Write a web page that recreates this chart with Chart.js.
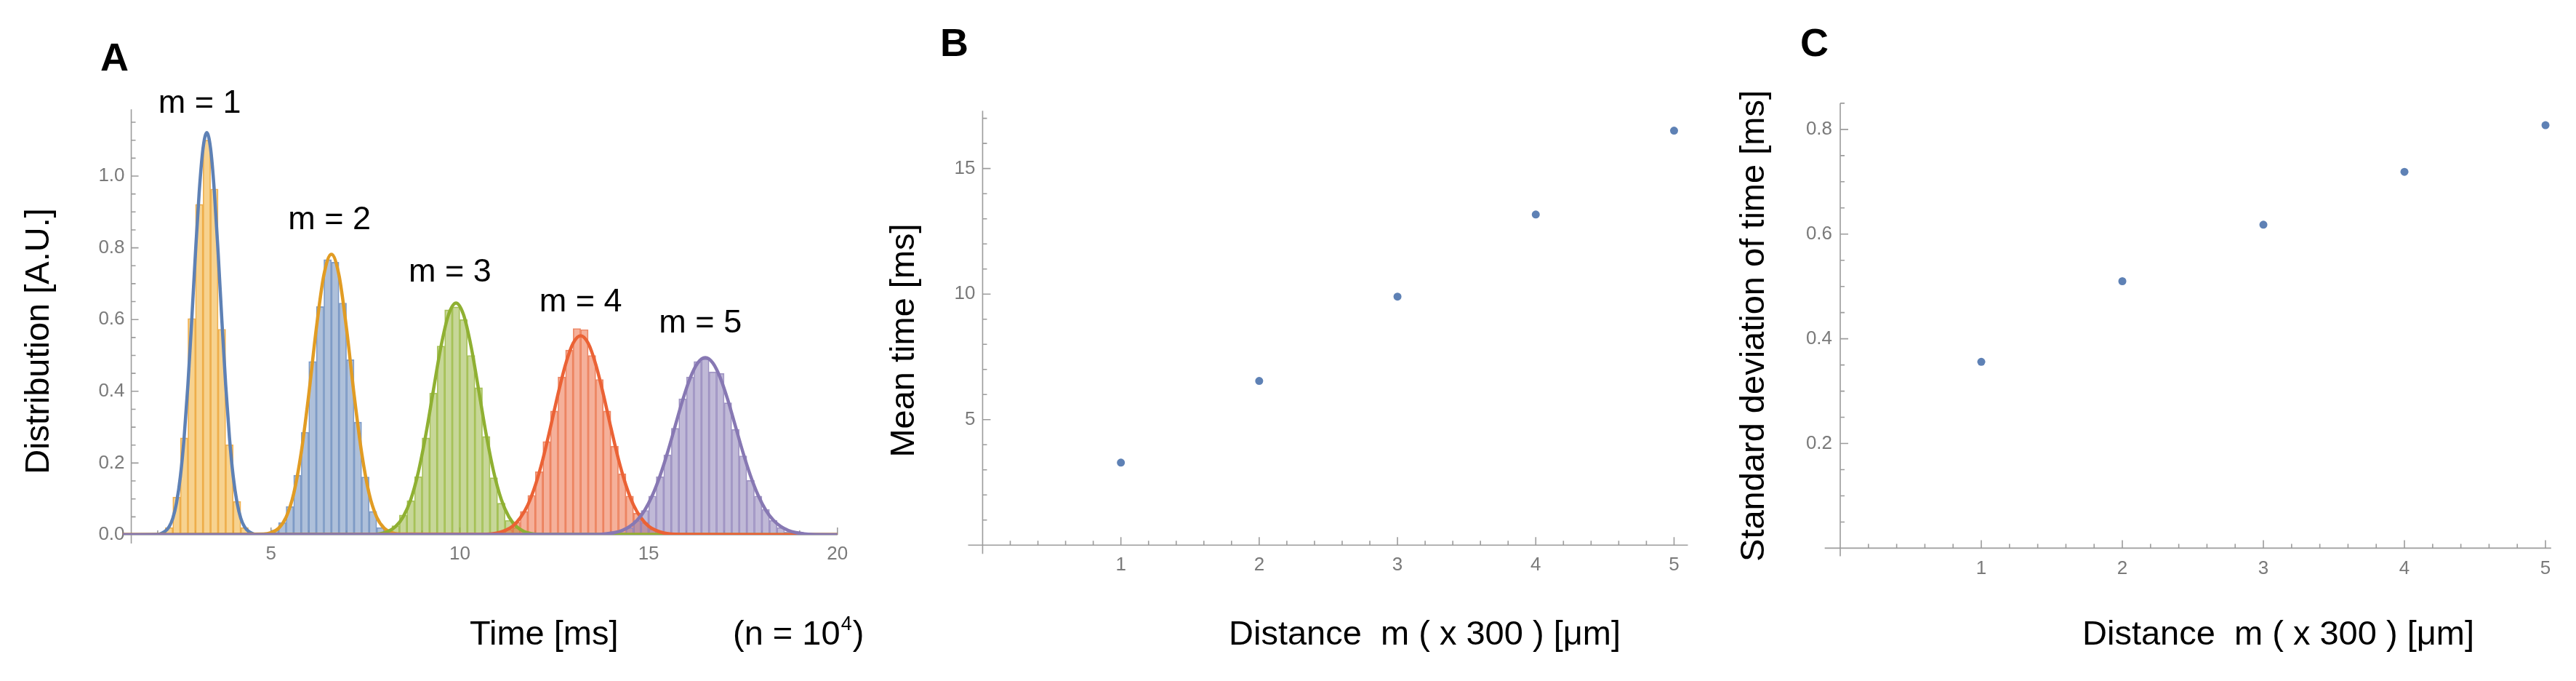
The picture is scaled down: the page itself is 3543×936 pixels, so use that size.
<!DOCTYPE html>
<html>
<head>
<meta charset="utf-8">
<script src="https://cdn.jsdelivr.net/npm/chart.js@4.4.1/dist/chart.umd.min.js"></script>
<style>
html, body { margin: 0; padding: 0; background: #ffffff; }
#wrap { position: relative; width: 3543px; height: 936px; overflow: hidden; background: #ffffff; }
#wrap canvas { position: absolute; top: 0; }
</style>
</head>
<body>
<div id="wrap">
  <canvas id="cA" width="1200" height="936" style="left:0px"></canvas>
  <canvas id="cB" width="1175" height="936" style="left:1200px"></canvas>
  <canvas id="cC" width="1168" height="936" style="left:2375px"></canvas>
</div>
<script>
// ---------------- DATA ----------------
// Panel B / C : one value per distance m
const distances = [1, 2, 3, 4, 5];
const meanTimes = [3.29, 6.54, 9.90, 13.17, 16.51];
const sdTimes   = [0.356, 0.510, 0.618, 0.719, 0.808];

// Panel A : histogram bins (bin centres, bin width 0.2 ms) and heights
const m1Bins = [2.1, 2.3, 2.5, 2.7, 2.9, 3.1, 3.3, 3.5, 3.7, 3.9, 4.1, 4.3, 4.5];
const m1Hist = [0.003, 0.02, 0.105, 0.27, 0.603, 0.921, 1.10, 0.964, 0.573, 0.251, 0.093, 0.02, 0.004];
const m2Bins = [4.9, 5.1, 5.3, 5.5, 5.7, 5.9, 6.1, 6.3, 6.5, 6.7, 6.9, 7.1, 7.3, 7.5, 7.7, 7.9, 8.1];
const m2Hist = [0.003, 0.013, 0.034, 0.079, 0.166, 0.286, 0.483, 0.636, 0.767, 0.76, 0.646, 0.488, 0.314, 0.161, 0.065, 0.02, 0.005];
const m3Bins = [8.1, 8.3, 8.5, 8.7, 8.9, 9.1, 9.3, 9.5, 9.7, 9.9, 10.1, 10.3, 10.5, 10.7, 10.9, 11.1, 11.3, 11.5, 11.7];
const m3Hist = [0.008, 0.025, 0.055, 0.095, 0.162, 0.27, 0.395, 0.526, 0.627, 0.635, 0.60, 0.50, 0.41, 0.274, 0.159, 0.088, 0.04, 0.02, 0.007];
const m4Bins = [11.3, 11.5, 11.7, 11.9, 12.1, 12.3, 12.5, 12.7, 12.9, 13.1, 13.3, 13.5, 13.7, 13.9, 14.1, 14.3, 14.5, 14.7, 14.9, 15.1, 15.3];
const m4Hist = [0.015, 0.035, 0.065, 0.11, 0.176, 0.26, 0.345, 0.44, 0.515, 0.575, 0.572, 0.50, 0.433, 0.345, 0.247, 0.17, 0.108, 0.06, 0.034, 0.016, 0.007];
const m5Bins = [14.1, 14.3, 14.5, 14.7, 14.9, 15.1, 15.3, 15.5, 15.7, 15.9, 16.1, 16.3, 16.5, 16.7, 16.9, 17.1, 17.3, 17.5, 17.7, 17.9, 18.1, 18.3, 18.5, 18.7, 18.9];
const m5Hist = [0.003, 0.007, 0.02, 0.04, 0.068, 0.108, 0.162, 0.223, 0.297, 0.379, 0.44, 0.483, 0.49, 0.454, 0.45, 0.368, 0.294, 0.22, 0.152, 0.108, 0.071, 0.04, 0.02, 0.008, 0.003];

// Panel A : fitted curves
const m1CurveX = [1.0, 2.0, 2.1, 2.2, 2.3, 2.4, 2.5, 2.6, 2.7, 2.8, 2.9, 3.0, 3.1, 3.2, 3.3, 3.4, 3.5, 3.6, 3.7, 3.8, 3.9, 4.0, 4.1, 4.2, 4.3, 4.4, 4.5, 4.6, 20];
const m1CurveY = [0, 0.001, 0.004, 0.010, 0.022, 0.046, 0.090, 0.162, 0.271, 0.418, 0.596, 0.786, 0.957, 1.077, 1.121, 1.077, 0.957, 0.786, 0.596, 0.418, 0.271, 0.162, 0.090, 0.046, 0.022, 0.010, 0.004, 0.001, 0];
const m2CurveX = [1.0, 4.8, 5.0, 5.2, 5.4, 5.6, 5.8, 6.0, 6.2, 6.4, 6.6, 6.8, 7.0, 7.2, 7.4, 7.6, 7.8, 8.0, 8.2, 8.4, 20];
const m2CurveY = [0, 0.002, 0.006, 0.018, 0.049, 0.114, 0.229, 0.391, 0.575, 0.724, 0.782, 0.724, 0.575, 0.391, 0.229, 0.114, 0.049, 0.018, 0.006, 0.002, 0];
const m3CurveX = [1.0, 7.7, 7.9, 8.1, 8.3, 8.5, 8.7, 8.9, 9.1, 9.3, 9.5, 9.7, 9.9, 10.1, 10.3, 10.5, 10.7, 10.9, 11.1, 11.3, 11.5, 11.7, 11.9, 12.1, 20];
const m3CurveY = [0, 0.001, 0.003, 0.009, 0.023, 0.050, 0.098, 0.174, 0.279, 0.403, 0.524, 0.613, 0.646, 0.613, 0.524, 0.403, 0.279, 0.174, 0.098, 0.050, 0.023, 0.009, 0.003, 0.001, 0];
const m4CurveX = [1.0, 10.6, 10.8, 11.0, 11.2, 11.4, 11.6, 11.8, 12.0, 12.2, 12.4, 12.6, 12.8, 13.0, 13.2, 13.4, 13.6, 13.8, 14.0, 14.2, 14.4, 14.6, 14.8, 15.0, 15.2, 15.4, 15.6, 15.8, 20];
const m4CurveY = [0, 0.001, 0.002, 0.005, 0.012, 0.024, 0.047, 0.083, 0.138, 0.211, 0.299, 0.392, 0.475, 0.534, 0.555, 0.534, 0.475, 0.392, 0.299, 0.211, 0.138, 0.083, 0.047, 0.024, 0.012, 0.005, 0.002, 0.001, 0];
const m5CurveX = [1.0, 13.7, 13.9, 14.1, 14.3, 14.5, 14.7, 14.9, 15.1, 15.3, 15.5, 15.7, 15.9, 16.1, 16.3, 16.5, 16.7, 16.9, 17.1, 17.3, 17.5, 17.7, 17.9, 18.1, 18.3, 18.5, 18.7, 18.9, 19.1, 19.3, 20];
const m5CurveY = [0, 0.001, 0.003, 0.006, 0.012, 0.023, 0.041, 0.069, 0.110, 0.164, 0.229, 0.302, 0.375, 0.437, 0.479, 0.494, 0.479, 0.437, 0.375, 0.302, 0.229, 0.164, 0.110, 0.069, 0.041, 0.023, 0.012, 0.006, 0.003, 0.001, 0];

const peakLabels = ["m = 1", "m = 2", "m = 3", "m = 4", "m = 5"];

// Tick labels
const ticksAX = [5, 10, 15, 20];
const ticksAY = [0, 0.2, 0.4, 0.6, 0.8, 1.0];
const ticksBX = [1, 2, 3, 4, 5];
const ticksBY = [5, 10, 15];
const ticksCX = [1, 2, 3, 4, 5];
const ticksCY = [0.2, 0.4, 0.6, 0.8];

// ---------------- STYLE ----------------
const FONT = '"Liberation Sans", Arial, Helvetica, sans-serif';
const AXIS_COLOR = '#9c9c9c';
const TICK_TEXT = '#7a7a7a';
const C_BLUE = '#5E81B5', C_ORANGE = '#E19C24', C_GREEN = '#8FB032', C_RED = '#EB6235', C_PURPLE = '#8778B3';

function rgba(hex, a) {
  const n = parseInt(hex.slice(1), 16);
  return `rgba(${(n >> 16) & 255},${(n >> 8) & 255},${n & 255},${a})`;
}
function stepRange(start, end, step, exclude) {
  const out = [];
  const n = Math.round((end - start) / step);
  for (let i = 0; i <= n; i++) {
    const v = +(start + i * step).toFixed(6);
    if (!exclude.some(e => Math.abs(e - v) < 1e-6)) out.push(v);
  }
  return out;
}
function xy(xs, ys) { return xs.map((x, i) => ({ x: x, y: ys[i] })); }

function drawAxes(chart, c) {
  const ctx = chart.ctx, ca = chart.chartArea;
  const xs = chart.scales.x, ys = chart.scales.y;
  const ax = xs.getPixelForValue(c.yAxisAt);
  const ay = ys.getPixelForValue(0);
  ctx.save();
  ctx.strokeStyle = AXIS_COLOR;
  ctx.lineWidth = 1.6;
  ctx.beginPath();
  ctx.moveTo(ca.left, ay); ctx.lineTo(ca.right, ay);
  ctx.moveTo(ax, ca.top); ctx.lineTo(ax, ay + c.yExtend);
  c.xMajor.forEach(v => { const p = xs.getPixelForValue(v); ctx.moveTo(p, ay); ctx.lineTo(p, ay - c.majorLen); });
  c.xMinor.forEach(v => { const p = xs.getPixelForValue(v); ctx.moveTo(p, ay); ctx.lineTo(p, ay - c.minorLen); });
  c.yMajor.forEach(v => { const p = ys.getPixelForValue(v); ctx.moveTo(ax, p); ctx.lineTo(ax + c.majorLen, p); });
  c.yMinor.forEach(v => { const p = ys.getPixelForValue(v); ctx.moveTo(ax, p); ctx.lineTo(ax + c.minorLen, p); });
  ctx.stroke();
  ctx.fillStyle = TICK_TEXT;
  ctx.font = `26px ${FONT}`;
  ctx.textAlign = 'center';
  ctx.textBaseline = 'alphabetic';
  c.xMajor.forEach(v => ctx.fillText(c.xFmt(v), xs.getPixelForValue(v), ay + c.xLabelDrop));
  ctx.textAlign = 'right';
  ctx.textBaseline = 'middle';
  c.yMajor.forEach(v => ctx.fillText(c.yFmt(v), ax - c.yLabelGap, ys.getPixelForValue(v)));
  ctx.restore();
}

function drawTexts(chart, c) {
  const ctx = chart.ctx;
  ctx.save();
  ctx.fillStyle = '#000000';
  // panel letter
  ctx.font = `bold 54px ${FONT}`;
  ctx.textAlign = 'left';
  ctx.textBaseline = 'alphabetic';
  ctx.fillText(c.letter, c.letterX, c.letterY);
  // y title (rotated)
  ctx.font = `47px ${FONT}`;
  ctx.save();
  ctx.translate(c.yTitleX, c.yTitleY);
  ctx.rotate(-Math.PI / 2);
  ctx.textAlign = 'center';
  ctx.fillText(c.yTitle, 0, 17);
  ctx.restore();
  // x title
  ctx.textAlign = 'left';
  ctx.fillText(c.xTitle, c.xTitleX, c.xTitleY);
  ctx.restore();
  if (c.extra) c.extra(chart);
}

function axesPlugin(c) {
  return {
    id: 'axes' + c.letter,
    beforeDatasetsDraw(chart) { drawAxes(chart, c); },
    afterDraw(chart) { drawTexts(chart, c); }
  };
}

function scaleOpts(min, max, ticks, isX) {
  return {
    type: 'linear', min: min, max: max, bounds: 'data', offset: false,
    grid: { display: false }, border: { display: false },
    ticks: { display: false },
    afterBuildTicks: (s) => { s.ticks = ticks.map(v => ({ value: v })); },
    afterFit: (s) => { if (isX) s.height = 0; else s.width = 0; }
  };
}

const baseOptions = {
  responsive: false, animation: false, devicePixelRatio: 1, events: [],
  plugins: { legend: { display: false }, tooltip: { enabled: false }, title: { display: false } }
};

// ---------------- PANEL A ----------------
const peakLabelAt = [[3.11, 1.176], [6.55, 0.852], [9.74, 0.706], [13.20, 0.623], [16.37, 0.564]];

function histDataset(bins, hist, fillHex, fillA, edgeHex, order) {
  return {
    type: 'bar', data: xy(bins, hist), grouped: false,
    backgroundColor: rgba(fillHex, fillA), borderColor: rgba(edgeHex, 0.85), borderWidth: 1,
    borderSkipped: 'start', barPercentage: 1, categoryPercentage: 1, order: order
  };
}
function curveDataset(xs, ys, color, order) {
  return {
    type: 'line', data: xy(xs, ys), borderColor: color, borderWidth: 4.5,
    pointRadius: 0, fill: false, cubicInterpolationMode: 'monotone', order: order
  };
}

new Chart(document.getElementById('cA'), {
  type: 'bar',
  data: {
    datasets: [
      histDataset(m1Bins, m1Hist, '#F0A828', 0.52, '#EBA23A', 20),
      histDataset(m2Bins, m2Hist, C_BLUE, 0.5, '#7393C2', 19),
      histDataset(m3Bins, m3Hist, C_GREEN, 0.5, '#9DBD48', 18),
      histDataset(m4Bins, m4Hist, C_RED, 0.5, '#EA7A55', 17),
      histDataset(m5Bins, m5Hist, C_PURPLE, 0.52, '#998CC0', 16),
      curveDataset(m1CurveX, m1CurveY, C_BLUE, 5),
      curveDataset(m2CurveX, m2CurveY, C_ORANGE, 4),
      curveDataset(m3CurveX, m3CurveY, C_GREEN, 3),
      curveDataset(m4CurveX, m4CurveY, C_RED, 2),
      curveDataset(m5CurveX, m5CurveY, C_PURPLE, 1)
    ]
  },
  options: Object.assign({}, baseOptions, {
    layout: { padding: { left: 168.6, right: 48.2, top: 150.3, bottom: 201 } },
    scales: { x: scaleOpts(1.07, 20, ticksAX, true), y: scaleOpts(0, 1.186, ticksAY, false) }
  }),
  plugins: [axesPlugin({
    letter: 'A', letterX: 138, letterY: 97,
    yTitle: 'Distribution [A.U.]', yTitleX: 50, yTitleY: 469,
    xTitle: 'Time [ms]', xTitleX: 646, xTitleY: 886,
    yAxisAt: 1.3, yExtend: 12, majorLen: 10, minorLen: 6,
    xMajor: ticksAX, xMinor: stepRange(2, 19, 1, ticksAX),
    yMajor: ticksAY, yMinor: stepRange(0.05, 1.15, 0.05, [0, 0.2, 0.4, 0.6, 0.8, 1.0]),
    xFmt: v => String(v), yFmt: v => v.toFixed(1), xLabelDrop: 34, yLabelGap: 9,
    extra: (chart) => {
      const ctx = chart.ctx, xs = chart.scales.x, ys = chart.scales.y;
      ctx.save();
      ctx.fillStyle = '#000000';
      ctx.font = `45px ${FONT}`;
      ctx.textAlign = 'center';
      ctx.textBaseline = 'alphabetic';
      peakLabels.forEach((t, i) => {
        ctx.fillText(t, xs.getPixelForValue(peakLabelAt[i][0]), ys.getPixelForValue(peakLabelAt[i][1]));
      });
      // (n = 10^4)
      ctx.textAlign = 'left';
      ctx.font = `47px ${FONT}`;
      let x = 1008;
      const part1 = '(n = 10';
      ctx.fillText(part1, x, 886);
      x += ctx.measureText(part1).width + 1;
      ctx.font = `27px ${FONT}`;
      ctx.fillText('4', x, 866);
      x += ctx.measureText('4').width + 1;
      ctx.font = `47px ${FONT}`;
      ctx.fillText(')', x, 886);
      ctx.restore();
    }
  })]
});

// ---------------- PANEL B ----------------
new Chart(document.getElementById('cB'), {
  type: 'scatter',
  data: { datasets: [{ data: xy(distances, meanTimes), pointRadius: 5.5, pointBackgroundColor: C_BLUE, pointBorderWidth: 0, borderWidth: 0 }] },
  options: Object.assign({}, baseOptions, {
    layout: { padding: { left: 131.5, right: 53.5, top: 152.3, bottom: 186.7 } },
    scales: { x: scaleOpts(-0.105, 5.1, ticksBX, true), y: scaleOpts(0, 17.3, ticksBY, false) }
  }),
  plugins: [axesPlugin({
    letter: 'B', letterX: 93, letterY: 77,
    yTitle: 'Mean time [ms]', yTitleX: 40, yTitleY: 468,
    xTitle: 'Distance  m ( x 300 ) [\u03bcm]', xTitleX: 490, xTitleY: 886,
    yAxisAt: 0, yExtend: 12, majorLen: 11, minorLen: 6,
    xMajor: ticksBX, xMinor: stepRange(0.2, 5.0, 0.2, ticksBX),
    yMajor: ticksBY, yMinor: stepRange(1, 17, 1, ticksBY),
    xFmt: v => String(v), yFmt: v => String(v), xLabelDrop: 35, yLabelGap: 10
  })]
});

// ---------------- PANEL C ----------------
new Chart(document.getElementById('cC'), {
  type: 'scatter',
  data: { datasets: [{ data: xy(distances, sdTimes), pointRadius: 5.5, pointBackgroundColor: C_BLUE, pointBorderWidth: 0, borderWidth: 0 }] },
  options: Object.assign({}, baseOptions, {
    layout: { padding: { left: 134.7, right: 34.2, top: 141.9, bottom: 182.6 } },
    scales: { x: scaleOpts(-0.11, 5.04, ticksCX, true), y: scaleOpts(0, 0.85, ticksCY, false) }
  }),
  plugins: [axesPlugin({
    letter: 'C', letterX: 101, letterY: 77,
    yTitle: 'Standard deviation of time [ms]', yTitleX: 34, yTitleY: 448,
    xTitle: 'Distance  m ( x 300 ) [\u03bcm]', xTitleX: 489, xTitleY: 886,
    yAxisAt: 0, yExtend: 11, majorLen: 11, minorLen: 6,
    xMajor: ticksCX, xMinor: stepRange(0.2, 5.0, 0.2, ticksCX),
    yMajor: ticksCY, yMinor: stepRange(0.05, 0.85, 0.05, ticksCY),
    xFmt: v => String(v), yFmt: v => v.toFixed(1), xLabelDrop: 36, yLabelGap: 11
  })]
});
</script>
</body>
</html>
